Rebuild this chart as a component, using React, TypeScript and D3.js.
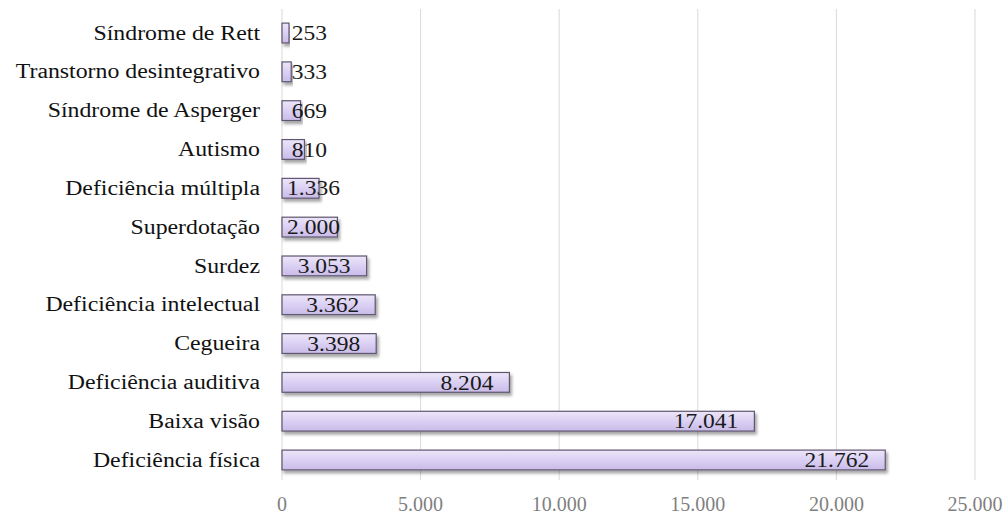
import React from "react";
import * as d3 from "d3";

const categories = [
  "Síndrome de Rett",
  "Transtorno desintegrativo",
  "Síndrome de Asperger",
  "Autismo",
  "Deficiência múltipla",
  "Superdotação",
  "Surdez",
  "Deficiência intelectual",
  "Cegueira",
  "Deficiência auditiva",
  "Baixa visão",
  "Deficiência física",
];
const values = [253, 333, 669, 810, 1336, 2000, 3053, 3362, 3398, 8204, 17041, 21762];
const ticks = [0, 5000, 10000, 15000, 20000, 25000];

const W = 1008;
const H = 514;
const fmt = (v: number) => d3.format(",")(v).replace(/,/g, ".");

let ctx: CanvasRenderingContext2D | null = null;
function measure(text: string, size: number) {
  if (!ctx) ctx = document.createElement("canvas").getContext("2d");
  if (!ctx) return text.length * size * 0.5;
  ctx.font = `${size}px "Liberation Serif", "Times New Roman", serif`;
  return ctx.measureText(text).width;
}

export default function App() {
  const x = d3.scaleLinear().domain([0, 25000]).range([282, 975]);
  const y = d3.scaleBand<string>().domain(categories).range([13.6, 479.4]).paddingInner(0.49).paddingOuter(0.245);
  const font = '"Liberation Serif", "Times New Roman", serif';
  const catSize = 20, catSx = 1.19;
  const valSize = 21, valSx = 1.12;
  const pad = 16;
  return (
    <svg width={W} height={H} style={{ position: "absolute", left: 0, top: 0, background: "#fff" }} fontFamily={font}>
      <defs>
        <linearGradient id="barg" x1="0" y1="0" x2="0" y2="1">
          <stop offset="0%" stopColor="#ece6f9" />
          <stop offset="55%" stopColor="#d9cef2" />
          <stop offset="100%" stopColor="#c9bbe8" />
        </linearGradient>
        <filter id="sh" x="-5%" y="-30%" width="115%" height="190%">
          <feDropShadow dx="2" dy="3" stdDeviation="1.8" floodColor="#000" floodOpacity="0.35" />
        </filter>
      </defs>
      {ticks.map((t) => (
        <line key={"g" + t} x1={x(t)} x2={x(t)} y1={9} y2={480} stroke="#d9d9d9" strokeWidth={1} />
      ))}
      {ticks.map((t) => (
        <text key={"t" + t} x={x(t)} y={504} dy="0.35em" textAnchor="middle" fontSize={20} fill="#7f7f7f">
          {fmt(t)}
        </text>
      ))}
      {categories.map((c) => {
        const cy = (y(c) as number) + y.bandwidth() / 2;
        return (
          <text key={"c" + c} transform={`translate(${x(0) - 22},${cy}) scale(${catSx},1)`} dy="0.33em" textAnchor="end" fontSize={catSize} fill="#111">
            {c}
          </text>
        );
      })}
      {categories.map((c, i) => (
        <rect key={"b" + c} x={x(0)} y={y(c)} width={x(values[i]) - x(0)} height={y.bandwidth()} fill="url(#barg)" stroke="#5f566f" strokeWidth={1.2} filter="url(#sh)" />
      ))}
      {categories.map((c, i) => {
        const cy = (y(c) as number) + y.bandwidth() / 2;
        const label = fmt(values[i]);
        const w = measure(label, valSize) * valSx;
        const end = x(values[i]) - pad;
        const start = Math.max(end - w, x(0) + 45 - w, x(0) + 5);
        return (
          <text key={"v" + c} transform={`translate(${start},${cy}) scale(${valSx},1)`} dy="0.34em" textAnchor="start" fontSize={valSize} fill="#1a1a1a">
            {label}
          </text>
        );
      })}
    </svg>
  );
}
